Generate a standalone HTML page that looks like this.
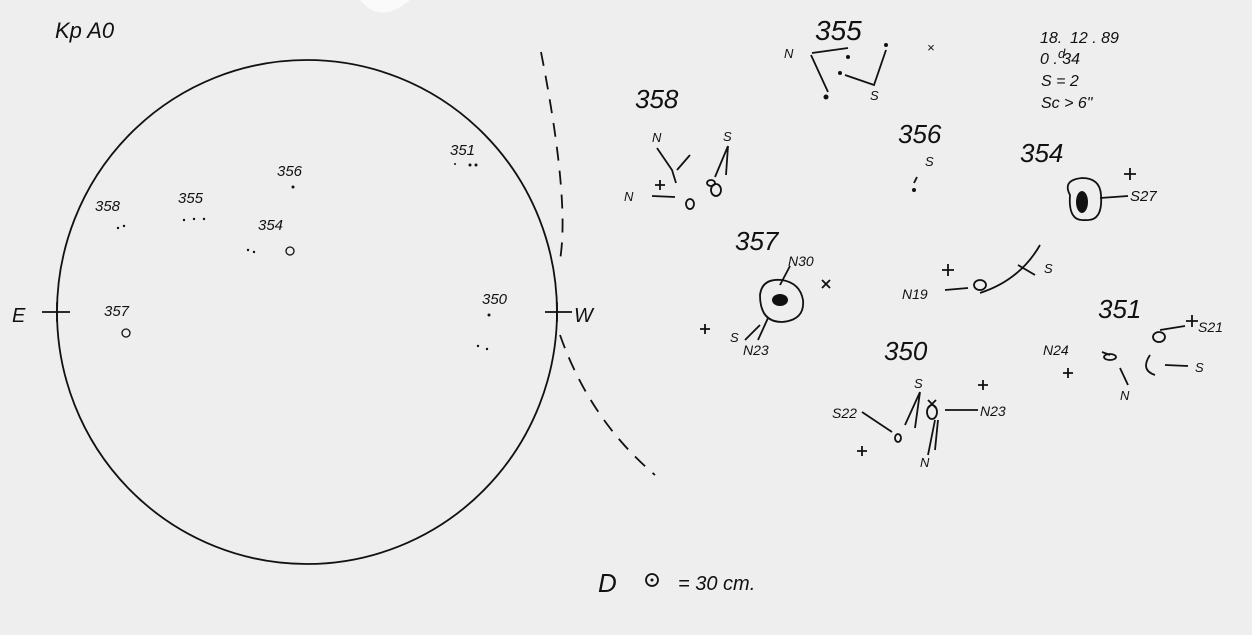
<!DOCTYPE html>
<html><head><style>
html,body{margin:0;padding:0;background:#eeeeee;}
svg{display:block}
text{font-family:"Liberation Sans",sans-serif;font-style:italic;fill:#111;}
</style></head><body>
<svg width="1252" height="635" viewBox="0 0 1252 635" xmlns="http://www.w3.org/2000/svg">
<rect width="1252" height="635" fill="#eeeeee"/>
<path d="M360 0 Q380 25 410 0 Z" fill="#fafafa"/>
<g stroke="#111" fill="none" stroke-width="1.8">
<ellipse cx="307" cy="312" rx="250" ry="252"/>
<line x1="42" y1="312" x2="70" y2="312"/>
<line x1="57" y1="302" x2="57" y2="322"/>
<line x1="545" y1="312" x2="572" y2="312"/>
<line x1="557" y1="302" x2="557" y2="322"/>
<path d="M541 52 Q570 200 560 260" stroke-dasharray="14 10"/>
<path d="M560 335 Q590 420 655 475" stroke-dasharray="14 10"/>
<path d="M812 53 L848 48 M811 55 L828 92 M845 75 L874 85 L886 50"/>
<path d="M657 148 L672 170 L676 183 M690 155 L677 170 M728 146 L715 177 M728 146 L726 175 M652 196 L675 197"/>
<ellipse cx="690" cy="204" rx="4" ry="5"/>
<ellipse cx="711" cy="183" rx="4" ry="3"/>
<ellipse cx="716" cy="190" rx="5" ry="6"/>
<path d="M917 177 L914 183"/>
<path d="M1070 195 Q1062 180 1082 178 Q1100 178 1101 195 Q1103 222 1085 220 Q1068 222 1070 195 Z"/>
<path d="M1100 198 L1128 196 M1130 168 v12 M1124 174 h12"/>
<path d="M760 295 Q762 278 782 280 Q800 283 803 300 Q805 320 782 322 Q760 322 760 295 Z"/>
<path d="M780 285 L790 266 M760 325 L745 340 M768 318 L758 340 M700 329 h10 M705 324 v10 M822 280 l8 8 M830 280 l-8 8"/>
<path d="M942 270 h12 M948 264 v12 M968 288 L945 290 M980 293 Q1020 280 1040 245 M1018 265 L1035 275"/>
<ellipse cx="980" cy="285" rx="6" ry="5"/>
<path d="M1160 330 L1185 326 M1192 315 v12 M1186 321 h12 M1165 365 L1188 366 M1102 352 L1110 355 M1128 385 L1120 368 M1063 373 h10 M1068 368 v10"/>
<ellipse cx="1159" cy="337" rx="6" ry="5"/>
<ellipse cx="1110" cy="357" rx="6" ry="3"/>
<path d="M1150 355 Q1140 370 1155 375"/>
<path d="M920 392 L905 425 M920 392 L915 428 M862 412 L892 432 M945 410 L978 410 M935 420 L928 455 M938 420 L935 450 M978 385 h10 M983 380 v10 M857 451 h10 M862 446 v10 M928 400 l8 8 M936 400 l-8 8"/>
<ellipse cx="932" cy="412" rx="5" ry="7"/>
<ellipse cx="898" cy="438" rx="3" ry="4"/>
<path d="M655 185 h10 M660 180 v10"/>
<circle cx="652" cy="580" r="6"/>
</g>
<g fill="#111">
<ellipse cx="1082" cy="202" rx="6" ry="11"/>
<ellipse cx="780" cy="300" rx="8" ry="6"/>
<circle cx="652" cy="580" r="1.5"/>
<circle cx="848" cy="57" r="2"/><circle cx="886" cy="45" r="2"/><circle cx="826" cy="97" r="2.5"/><circle cx="840" cy="73" r="2"/>
<circle cx="914" cy="190" r="2"/>
<circle cx="293" cy="187" r="1.5"/><circle cx="184" cy="220" r="1.2"/><circle cx="194" cy="219" r="1.2"/><circle cx="204" cy="219" r="1.2"/>
<circle cx="118" cy="228" r="1.2"/><circle cx="124" cy="226" r="1.2"/>
<circle cx="470" cy="165" r="1.5"/><circle cx="476" cy="165" r="1.5"/><circle cx="455" cy="164" r="1"/>
<circle cx="489" cy="315" r="1.5"/><circle cx="478" cy="346" r="1.2"/><circle cx="487" cy="349" r="1.2"/>
<circle cx="248" cy="250" r="1.2"/><circle cx="254" cy="252" r="1.2"/>
</g>
<g fill="none" stroke="#111" stroke-width="1.3">
<circle cx="290" cy="251" r="4"/><circle cx="126" cy="333" r="4"/>
</g>
<text x="55" y="38" font-size="22">Kp A0</text>
<text x="95" y="211" font-size="15">358</text>
<text x="178" y="203" font-size="15">355</text>
<text x="277" y="176" font-size="15">356</text>
<text x="258" y="230" font-size="15">354</text>
<text x="450" y="155" font-size="15">351</text>
<text x="482" y="304" font-size="15">350</text>
<text x="104" y="316" font-size="15">357</text>
<text x="12" y="322" font-size="20">E</text>
<text x="574" y="322" font-size="20">W</text>
<text x="815" y="40" font-size="28">355</text>
<text x="784" y="58" font-size="13">N</text>
<text x="870" y="100" font-size="13">S</text>
<text x="927" y="52" font-size="13">×</text>
<text x="1040" y="43" font-size="16">18.</text>
<text x="1058" y="58" font-size="13">d</text>
<text x="1070" y="43" font-size="16">12 . 89</text>
<text x="1040" y="64" font-size="16">0 . 34</text>
<text x="1041" y="86" font-size="16">S = 2</text>
<text x="1041" y="108" font-size="16">Sc &gt; 6"</text>
<text x="635" y="108" font-size="26">358</text>
<text x="652" y="142" font-size="13">N</text>
<text x="723" y="141" font-size="13">S</text>
<text x="624" y="201" font-size="13">N</text>
<text x="898" y="143" font-size="26">356</text>
<text x="925" y="166" font-size="13">S</text>
<text x="1020" y="162" font-size="26">354</text>
<text x="1130" y="201" font-size="15">S27</text>
<text x="735" y="250" font-size="26">357</text>
<text x="788" y="266" font-size="14">N30</text>
<text x="730" y="342" font-size="13">S</text>
<text x="743" y="355" font-size="14">N23</text>
<text x="902" y="299" font-size="14">N19</text>
<text x="1044" y="273" font-size="13">S</text>
<text x="1098" y="318" font-size="26">351</text>
<text x="1198" y="332" font-size="14">S21</text>
<text x="1043" y="355" font-size="14">N24</text>
<text x="1195" y="372" font-size="13">S</text>
<text x="1120" y="400" font-size="13">N</text>
<text x="884" y="360" font-size="26">350</text>
<text x="914" y="388" font-size="13">S</text>
<text x="980" y="416" font-size="14">N23</text>
<text x="832" y="418" font-size="14">S22</text>
<text x="920" y="467" font-size="13">N</text>
<text x="598" y="592" font-size="26">D</text>
<text x="678" y="590" font-size="20">= 30 cm.</text>
</svg>
</body></html>
